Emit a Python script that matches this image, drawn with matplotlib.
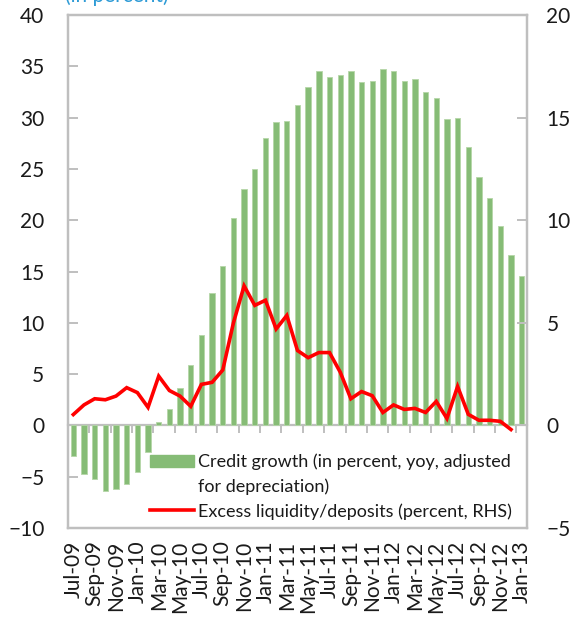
import matplotlib
matplotlib.use("Agg")
import matplotlib.pyplot as plt
from matplotlib.patches import Patch
from matplotlib.lines import Line2D
import numpy as np

plt.rcParams['font.family'] = ['Lato', 'DejaVu Sans']

# Monthly series, Jul-09 .. Jan-13
months = ["Jul-09", "Aug-09", "Sep-09", "Oct-09", "Nov-09", "Dec-09",
          "Jan-10", "Feb-10", "Mar-10", "Apr-10", "May-10", "Jun-10",
          "Jul-10", "Aug-10", "Sep-10", "Oct-10", "Nov-10", "Dec-10",
          "Jan-11", "Feb-11", "Mar-11", "Apr-11", "May-11", "Jun-11",
          "Jul-11", "Aug-11", "Sep-11", "Oct-11", "Nov-11", "Dec-11",
          "Jan-12", "Feb-12", "Mar-12", "Apr-12", "May-12", "Jun-12",
          "Jul-12", "Aug-12", "Sep-12", "Oct-12", "Nov-12", "Dec-12",
          "Jan-13"]

credit_growth = [-3.0, -4.7, -5.2, -6.4, -6.2, -5.7, -4.5, -2.6, 0.3, 1.6,
                 3.6, 5.9, 8.8, 12.9, 15.5, 20.2, 23.0, 25.0, 28.0, 29.6,
                 29.7, 31.2, 33.0, 34.5, 34.0, 34.2, 34.5, 33.5, 33.6, 34.7,
                 34.5, 33.6, 33.8, 32.5, 31.9, 29.9, 30.0, 27.1, 24.2, 22.2,
                 19.4, 16.6, 14.6]

excess_liquidity = [0.53, 1.0, 1.3, 1.25, 1.43, 1.84, 1.6, 0.88, 2.4, 1.7,
                    1.43, 0.93, 2.0, 2.1, 2.7, 5.0, 6.8, 5.85, 6.1, 4.7,
                    5.36, 3.65, 3.3, 3.55, 3.55, 2.6, 1.3, 1.65, 1.45, 0.63,
                    1.0, 0.78, 0.83, 0.63, 1.17, 0.34, 1.9, 0.54, 0.25, 0.25,
                    0.2, -0.2]

left_ticks = [-10, -5, 0, 5, 10, 15, 20, 25, 30, 35, 40]
right_ticks = [-5, 0, 5, 10, 15, 20]

GREEN = "#86bc76"
RED = "#ff0000"
GRAY = "#bfbfbf"
TEXT = "#1a1a1a"

fig = plt.figure(figsize=(5.8, 6.17), dpi=100)
ax = fig.add_axes([0.1172, 0.1442, 0.7914, 0.8315])
ax2 = ax.twinx()

x = np.arange(len(months))
ax.bar(x, credit_growth, width=0.5, color=GREEN, edgecolor="#b5d6a8",
       linewidth=0.6, zorder=2)
ax2.plot(np.arange(len(excess_liquidity)), excess_liquidity, color=RED,
         linewidth=2.6, solid_joinstyle="miter", zorder=3)

ax.set_xlim(-0.5, len(months) - 0.5)
ax.set_ylim(-10, 40)
ax2.set_ylim(-5, 20)
ax.set_yticks(left_ticks)
ax2.set_yticks(right_ticks)

for a in (ax, ax2):
    for s in a.spines.values():
        s.set_color(GRAY)
        s.set_linewidth(1.6)

ax.tick_params(axis="y", direction="in", length=7, width=1.4, color=GRAY,
               labelsize=15, labelcolor=TEXT, pad=17)
ax2.tick_params(axis="y", direction="in", length=7, width=1.4, color=GRAY,
                labelsize=15, labelcolor=TEXT, pad=14)

# category labels every second month along the bottom
ax.set_xticks(x[::2])
ax.set_xticklabels(months[::2], rotation=90, fontsize=15, color=TEXT)
ax.tick_params(axis="x", length=0, pad=9)

# zero line carrying the category tick marks
zero_axis = ax.secondary_xaxis(0.2)
zero_axis.set_xticks(np.arange(-0.5, len(months), 2))
zero_axis.tick_params(axis="x", direction="out", length=6, width=1.4,
                      color=GRAY, labelbottom=False)
zero_axis.spines["bottom"].set_color(GRAY)
zero_axis.spines["bottom"].set_linewidth(1.6)

handles = [Patch(facecolor=GREEN, edgecolor=GREEN),
           Line2D([], [], linestyle="none"),
           Line2D([], [], color=RED, linewidth=2.6)]
labels = ["Credit growth (in percent, yoy, adjusted",
          "for depreciation)",
          "Excess liquidity/deposits (percent, RHS)"]
leg = ax.legend(handles, labels, loc="upper left",
                bbox_to_anchor=(0.163, 0.159), frameon=False, fontsize=13.0,
                handlelength=2.45, handleheight=0.65, handletextpad=0.22,
                labelspacing=0.45, borderaxespad=0)
for t in leg.get_texts():
    t.set_color(TEXT)

fig.text(0.112, 0.991, "(in percent)", color="#2e9bd6", fontsize=15,
         ha="left", va="bottom")

fig.savefig("out.png", dpi=100)
